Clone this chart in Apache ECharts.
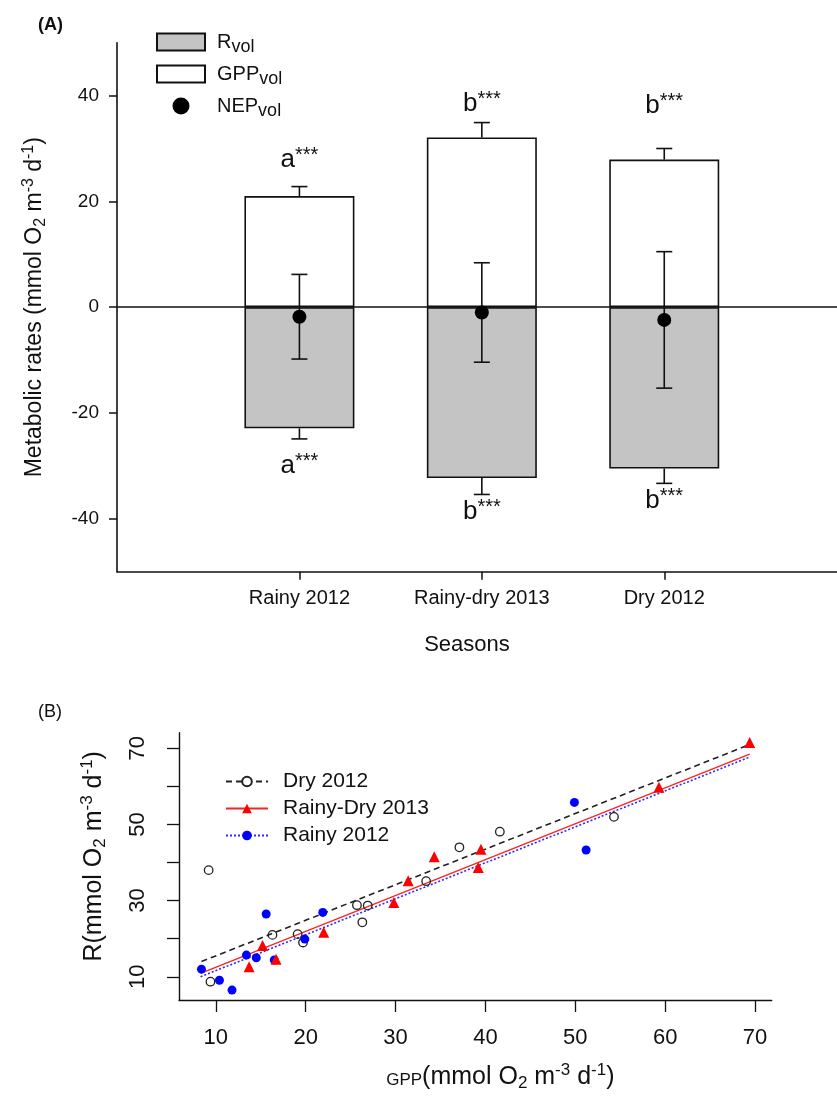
<!DOCTYPE html>
<html>
<head>
<meta charset="utf-8">
<script src="https://cdn.jsdelivr.net/npm/echarts@6/dist/echarts.min.js"></script>
<style>
  html, body { margin: 0; padding: 0; background: #fff; }
  #main { width: 837px; height: 1108px; }
</style>
</head>
<body>
<div id="main"></div>
<script>
// (A) seasonal metabolic rates
var seasons = ['Rainy 2012', 'Rainy-dry 2013', 'Dry 2012'];
var gppVol = [21.0, 32.1, 27.9];
var gppErr = [1.8, 2.8, 2.1];
var rVol = [-22.9, -32.3, -30.5];
var rErr = [2.0, 3.1, 2.8];
var nepVol = [-1.8, -1.0, -2.4];
var nepErr = [8.0, 9.4, 12.9];
var letters = ['a', 'b', 'b'];
var letterTopAt = [27.8, 38.5, 38.0];
var letterBottomAt = [-30.0, -38.7, -36.6];
var ticksA = [-40, -20, 0, 20, 40];

// (B) R vs GPP
var dryX = [9.2, 9.4, 16.3, 19.1, 19.7, 25.7, 26.9, 26.3, 33.4, 37.1, 41.6, 54.3];
var dryY = [38.0, 8.7, 21.0, 21.2, 19.0, 28.8, 28.7, 24.3, 35.1, 44.0, 48.1, 52.0];
var rdX = [13.7, 15.2, 16.7, 22.0, 29.8, 31.4, 34.3, 39.2, 39.5, 59.3, 69.4];
var rdY = [12.6, 18.2, 14.6, 21.7, 29.5, 35.2, 41.5, 38.7, 43.5, 59.8, 71.5];
var rainyX = [8.4, 10.4, 11.8, 13.4, 14.5, 15.6, 16.5, 19.9, 21.9, 49.9, 51.2];
var rainyY = [12.0, 9.1, 6.5, 15.7, 15.0, 26.5, 14.4, 19.9, 26.9, 55.8, 43.3];
var dryFitX = [8.4, 69.3], dryFitY = [14.0, 70.9];
var rdFitX = [8.3, 69.4], rdFitY = [10.9, 68.5];
var rainyFitX = [8.3, 69.3], rainyFitY = [10.0, 67.6];
var ticksBX = [10, 20, 30, 40, 50, 60, 70];
var ticksBY = [10, 20, 30, 40, 50, 60, 70];
var labelsBY = [10, 30, 50, 70];

var font = "'Liberation Sans', Arial, sans-serif";
var ink = '#111';

function pairs(xs, ys) {
    return xs.map(function (x, i) { return [x, ys[i]]; });
}
var slot = seasons.map(function (s, i) { return i + 1; });

// error bar: line from value(1) to value(2), caps where asked
function errorBar(capFrom, capTo) {
    return function (params, api) {
        var x = api.value(0);
        var a = api.coord([x, api.value(1)]);
        var b = api.coord([x, api.value(2)]);
        var w = 8;
        var st = { stroke: ink, lineWidth: 1.6 };
        var kids = [{ type: 'line', shape: { x1: a[0], y1: a[1], x2: b[0], y2: b[1] }, style: st }];
        if (capFrom) kids.push({ type: 'line', shape: { x1: a[0] - w, y1: a[1], x2: a[0] + w, y2: a[1] }, style: st });
        if (capTo) kids.push({ type: 'line', shape: { x1: b[0] - w, y1: b[1], x2: b[0] + w, y2: b[1] }, style: st });
        return { type: 'group', children: kids };
    };
}

var subRich = {
    m: { fontSize: 23, fontFamily: font, color: ink },
    sub: { fontSize: 16, fontFamily: font, color: ink, padding: [12, 0, 0, 0] },
    sup: { fontSize: 16, fontFamily: font, color: ink, padding: [0, 0, 12, 0] }
};
var subRichB = {
    g: { fontSize: 17, fontFamily: font, color: ink, padding: [6, 0, 0, 0] },
    m: { fontSize: 25, fontFamily: font, color: ink },
    sub: { fontSize: 17, fontFamily: font, color: ink, padding: [13, 0, 0, 0] },
    sup: { fontSize: 17, fontFamily: font, color: ink, padding: [0, 0, 13, 0] }
};
var letterRich = {
    l: { fontSize: 26, fontFamily: font, color: ink },
    s: { fontSize: 20, fontFamily: font, color: ink, padding: [0, 0, 9, 0] }
};

var myChart = echarts.init(document.getElementById('main'));

var option = {
    backgroundColor: '#fff',
    animation: false,
    graphic: [
        { type: 'text', left: 38, top: 16, style: { text: '(A)', font: 'bold 18px ' + font, fill: ink } },
        { type: 'text', left: 38, top: 703, style: { text: '(B)', font: '18px ' + font, fill: ink } }
    ],
    legend: [
        {
            orient: 'vertical',
            left: 151,
            top: 27,
            itemWidth: 48,
            itemHeight: 17,
            itemGap: 8,
            data: [
                { name: 'Rvol', icon: 'rect' },
                { name: 'GPPvol', icon: 'rect' },
                { name: 'NEPvol', icon: 'circle' }
            ],
            formatter: function (name) {
                return '{m|' + name.replace('vol', '') + '}{s|vol}';
            },
            textStyle: {
                padding: [0, 0, 0, 7],
                rich: {
                    m: { fontSize: 20, fontFamily: font, color: ink },
                    s: { fontSize: 18, fontFamily: font, color: ink, padding: [10, 0, 0, 0] }
                }
            }
        },
        {
            orient: 'vertical',
            left: 220,
            top: 766,
            itemWidth: 42,
            itemHeight: 12,
            itemGap: 6,
            data: ['Dry 2012', 'Rainy-Dry 2013', 'Rainy 2012'],
            textStyle: { fontSize: 21, fontFamily: font, color: ink, lineHeight: 21, padding: [0, 0, 0, 10] }
        }
    ],
    grid: [
        { left: 117, top: 42.7, width: 720, height: 529, outerBoundsMode: 'none' },
        { left: 179, top: 732.7, width: 592.7, height: 267.3, outerBoundsMode: 'none' }
    ],
    xAxis: [
        {
            gridIndex: 0,
            type: 'value',
            min: 0,
            max: 3.947,
            splitLine: { show: false },
            axisLine: { onZero: false, lineStyle: { color: ink, width: 1.6 } },
            axisTick: { customValues: slot, length: 8, lineStyle: { color: ink, width: 1.5 } },
            axisLabel: {
                customValues: slot,
                margin: 17,
                fontSize: 20,
                fontFamily: font,
                color: ink,
                formatter: function (v) { return seasons[Math.round(v) - 1]; }
            },
            name: 'Seasons',
            nameLocation: 'middle',
            nameGap: 62,
            nameTextStyle: { fontSize: 22, fontFamily: font, color: ink, padding: [0, 20, 0, 0] }
        },
        {
            gridIndex: 1,
            type: 'value',
            min: 5.9,
            max: 71.85,
            splitLine: { show: false },
            axisLine: { onZero: false, lineStyle: { color: ink, width: 1.4 } },
            axisTick: { customValues: ticksBX, length: 12, lineStyle: { color: ink, width: 1.3 } },
            axisLabel: { customValues: ticksBX, margin: 27, fontSize: 22, fontFamily: font, color: ink },
            name: '{g|GPP}{m|(mmol O}{sub|2}{m| m}{sup|-3}{m| d}{sup|-1}{m|)}',
            nameLocation: 'middle',
            nameGap: 62,
            nameTextStyle: { rich: subRichB, padding: [0, 0, 0, 50] }
        }
    ],
    yAxis: [
        {
            gridIndex: 0,
            type: 'value',
            min: -50,
            max: 50,
            splitLine: { show: false },
            axisLine: { onZero: false, lineStyle: { color: ink, width: 1.6 } },
            axisTick: { customValues: ticksA, length: 8, lineStyle: { color: ink, width: 1.5 } },
            axisLabel: { customValues: ticksA, margin: 18, fontSize: 19, fontFamily: font, color: ink },
            name: '{m|Metabolic rates (mmol O}{sub|2}{m| m}{sup|-3}{m| d}{sup|-1}{m|)}',
            nameLocation: 'middle',
            nameRotate: 90,
            nameGap: 68,
            nameTextStyle: { rich: subRich }
        },
        {
            gridIndex: 1,
            type: 'value',
            min: 3.9,
            max: 74.1,
            splitLine: { show: false },
            axisLine: { onZero: false, lineStyle: { color: ink, width: 1.4 } },
            axisTick: { customValues: ticksBY, length: 12, lineStyle: { color: ink, width: 1.3 } },
            axisLabel: { customValues: labelsBY, rotate: 90, margin: 30, fontSize: 22, fontFamily: font, color: ink },
            name: '{m|R(mmol O}{sub|2}{m| m}{sup|-3}{m| d}{sup|-1}{m|)}',
            nameLocation: 'middle',
            nameRotate: 90,
            nameGap: 70,
            nameTextStyle: { rich: subRichB, padding: [0, 0, 0, 20] }
        }
    ],
    series: [
        {
            name: 'GPPvol',
            type: 'bar',
            xAxisIndex: 0,
            yAxisIndex: 0,
            stack: 'met',
            barWidth: 110,
            data: pairs(slot, gppVol),
            itemStyle: { color: '#ffffff', borderColor: ink, borderWidth: 1.6 },
            z: 2
        },
        {
            name: 'Rvol',
            type: 'bar',
            xAxisIndex: 0,
            yAxisIndex: 0,
            stack: 'met',
            barWidth: 110,
            data: pairs(slot, rVol),
            itemStyle: { color: '#c4c4c4', borderColor: ink, borderWidth: 1.6 },
            z: 2
        },
        {
            type: 'custom',
            xAxisIndex: 0,
            yAxisIndex: 0,
            renderItem: errorBar(false, true),
            data: slot.map(function (x, i) { return [x, gppVol[i], gppVol[i] + gppErr[i]]; }),
            z: 3
        },
        {
            type: 'custom',
            xAxisIndex: 0,
            yAxisIndex: 0,
            renderItem: errorBar(false, true),
            data: slot.map(function (x, i) { return [x, rVol[i], rVol[i] - rErr[i]]; }),
            z: 3
        },
        {
            type: 'custom',
            xAxisIndex: 0,
            yAxisIndex: 0,
            renderItem: errorBar(true, true),
            data: slot.map(function (x, i) { return [x, nepVol[i] - nepErr[i], nepVol[i] + nepErr[i]]; }),
            z: 4
        },
        {
            name: 'NEPvol',
            type: 'scatter',
            xAxisIndex: 0,
            yAxisIndex: 0,
            symbol: 'circle',
            symbolSize: 14,
            data: pairs(slot, nepVol),
            itemStyle: { color: '#000', opacity: 1 },
            markLine: {
                silent: true,
                symbol: ['none', 'none'],
                label: { show: false },
                lineStyle: { color: ink, width: 1.6, type: 'solid' },
                data: [{ yAxis: 0 }]
            },
            z: 5
        },
        {
            type: 'scatter',
            xAxisIndex: 0,
            yAxisIndex: 0,
            symbolSize: 1,
            itemStyle: { color: 'rgba(0,0,0,0)', opacity: 1 },
            data: slot.map(function (x, i) { return [x, letterTopAt[i], letters[i]]; })
                .concat(slot.map(function (x, i) { return [x, letterBottomAt[i], letters[i]]; })),
            label: {
                show: true,
                position: 'inside',
                formatter: function (p) { return '{l|' + p.value[2] + '}{s|***}'; },
                rich: letterRich
            },
            z: 6
        },
        // (B) fitted lines
        {
            name: 'Dry 2012',
            type: 'line',
            xAxisIndex: 1,
            yAxisIndex: 1,
            data: pairs(dryFitX, dryFitY),
            symbol: 'emptyCircle',
            showSymbol: false,
            color: '#222',
            lineStyle: { color: '#222', width: 1.6, type: [6, 4] },
            z: 2
        },
        {
            name: 'Rainy-Dry 2013',
            type: 'line',
            xAxisIndex: 1,
            yAxisIndex: 1,
            data: pairs(rdFitX, rdFitY),
            symbol: 'triangle',
            showSymbol: false,
            color: '#ff0000',
            lineStyle: { color: '#ff2020', width: 1.3, type: 'solid' },
            z: 2
        },
        {
            name: 'Rainy 2012',
            type: 'line',
            xAxisIndex: 1,
            yAxisIndex: 1,
            data: pairs(rainyFitX, rainyFitY),
            symbol: 'circle',
            showSymbol: false,
            color: '#0000ff',
            lineStyle: { color: '#2a2aff', width: 1.6, type: [2, 2] },
            z: 2
        },
        // (B) observations
        {
            type: 'scatter',
            xAxisIndex: 1,
            yAxisIndex: 1,
            symbol: 'circle',
            symbolSize: 8.5,
            data: pairs(dryX, dryY),
            itemStyle: { color: 'rgba(255,255,255,0)', borderColor: '#222', borderWidth: 1.3, opacity: 1 },
            z: 3
        },
        {
            type: 'scatter',
            xAxisIndex: 1,
            yAxisIndex: 1,
            symbol: 'circle',
            symbolSize: 9,
            data: pairs(rainyX, rainyY),
            itemStyle: { color: '#0000ff', opacity: 1 },
            z: 4
        },
        {
            type: 'scatter',
            xAxisIndex: 1,
            yAxisIndex: 1,
            symbol: 'triangle',
            symbolSize: 11,
            data: pairs(rdX, rdY),
            itemStyle: { color: '#ff0000', opacity: 1 },
            z: 5
        }
    ]
};

myChart.setOption(option);
</script>
</body>
</html>
